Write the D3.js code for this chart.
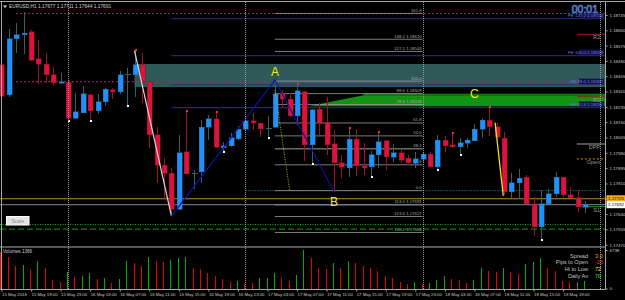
<!DOCTYPE html>
<html>
<head>
<meta charset="utf-8">
<title>EURUSD,H1</title>
<script src="https://cdn.jsdelivr.net/npm/d3@7"></script>
<style>
  body { margin: 0; background: #000; }
  svg { display: block; }
  text { font-family: "Liberation Sans", Arial, sans-serif; }
</style>
</head>
<body>
<div id="chart"></div>
<script>
// EURUSD H1, 15 May 2018 15:00 .. 18 May 2018 22:00 (one bar per hour)
var firstBar = Date.UTC(2018, 4, 15, 15);

var opens  = [1.18468,1.18301,1.18612,1.18634,1.18651,1.18501,1.18473,1.18412,1.18366,1.18373,
              1.18173,1.18203,1.18303,1.18214,1.18264,1.18330,1.18319,1.18414,1.18412,1.18468,
              1.18375,1.18079,1.17912,1.17866,1.17667,1.17986,1.17863,1.17875,1.18123,1.18168,
              1.18009,1.18018,1.18057,1.18111,1.18157,1.18144,1.18114,1.18122,1.18307,1.18277,
              1.18185,1.18319,1.18024,1.18222,1.18151,1.18029,1.17925,1.17897,1.18056,1.17908,
              1.17903,1.17968,1.18046,1.17955,1.17981,1.17950,1.17922,1.17944,1.17973,1.17903,
              1.18051,1.18024,1.18014,1.18033,1.18048,1.18111,1.18162,1.18125,1.18061,1.17764,
              1.17814,1.17844,1.17696,1.17570,1.17696,1.17752,1.17844,1.17746,1.17731,1.17677];
var highs  = [1.18495,1.18667,1.18701,1.18762,1.18662,1.18606,1.18536,1.18458,1.18425,1.18375,
              1.18314,1.18351,1.18307,1.18307,1.18340,1.18340,1.18436,1.18449,1.18547,1.18534,
              1.18378,1.18125,1.17951,1.17896,1.18079,1.18207,1.17885,1.18162,1.18190,1.18203,
              1.18042,1.18092,1.18129,1.18181,1.18203,1.18146,1.18185,1.18384,1.18329,1.18312,
              1.18357,1.18322,1.18221,1.18257,1.18290,1.18103,1.17968,1.18116,1.18111,1.18033,
              1.17992,1.18092,1.18051,1.18029,1.17996,1.17968,1.17986,1.17986,1.17984,1.18079,
              1.18074,1.18089,1.18061,1.18061,1.18140,1.18173,1.18233,1.18144,1.18098,1.17866,
              1.17889,1.17857,1.17733,1.17774,1.17777,1.17875,1.17848,1.17789,1.17774,1.17711];
var lows   = [1.18201,1.18290,1.18534,1.18529,1.18490,1.18362,1.18370,1.18357,1.18364,1.18162,
              1.18168,1.18200,1.18158,1.18196,1.18240,1.18277,1.18307,1.18245,1.18290,1.18257,
              1.18007,1.17814,1.17718,1.17629,1.17663,1.17860,1.17779,1.17814,1.18051,1.18007,
              1.17986,1.18014,1.18051,1.18108,1.18107,1.18066,1.18066,1.18120,1.18227,1.18180,
              1.18135,1.17935,1.17922,1.18074,1.17968,1.17764,1.17838,1.17844,1.17851,1.17857,
              1.17851,1.17896,1.17885,1.17931,1.17924,1.17912,1.17894,1.17931,1.17896,1.17890,
              1.17986,1.18007,1.17973,1.18005,1.18046,1.18061,1.18074,1.18064,1.17746,1.17728,
              1.17722,1.17694,1.17518,1.17500,1.17694,1.17736,1.17736,1.17729,1.17653,1.17644];
var closes = [1.18295,1.18612,1.18634,1.18645,1.18495,1.18473,1.18412,1.18368,1.18375,1.18173,
              1.18207,1.18307,1.18214,1.18264,1.18334,1.18319,1.18414,1.18416,1.18468,1.18375,
              1.18079,1.17912,1.17866,1.17667,1.17981,1.17863,1.17865,1.18123,1.18168,1.18012,
              1.18018,1.18063,1.18112,1.18157,1.18147,1.18114,1.18117,1.18307,1.18277,1.18185,
              1.18325,1.18024,1.18218,1.18144,1.18024,1.17925,1.17900,1.18056,1.17908,1.17897,
              1.17968,1.18042,1.17959,1.17981,1.17940,1.17925,1.17946,1.17973,1.17903,1.18051,
              1.18020,1.18014,1.18036,1.18051,1.18111,1.18162,1.18125,1.18066,1.17764,1.17814,
              1.17838,1.17696,1.17570,1.17696,1.17752,1.17844,1.17746,1.17731,1.17681,1.17691];
var volumes = [6400,5565,3990,4113,3238,4813,3535,1488,1138,2835,
               1960,2188,2765,1663,1785,1015,1663,4813,4463,3990,
               5460,4813,4690,4988,5285,5513,3640,3413,2765,2240,
               1610,1190,1365,1015,990,1890,1900,2765,1890,1260,
               2310,6738,5285,3535,3360,4410,3535,4813,4515,3938,
               3588,3063,2240,1890,1138,840,1190,735,910,1488,
               2188,1663,1488,1015,1488,3535,3115,2940,3640,2888,
               2485,4288,4690,5285,3640,3063,1300,1170,1210,1366];

// fractal marks seen on the wick tips
var fractalHighs = [18, 25, 29, 40, 47, 51, 61, 66];
var fractalLows  = [9, 12, 17, 30, 36, 42, 50, 59, 62, 73];

var priceTicks = [1.18745,1.18660,1.18575,1.18490,1.18405,1.18320,1.18235,1.18150,
                  1.18065,1.17980,1.17895,1.17810,1.17725,1.17640,1.17555,1.17470];
var timeLabels = ["15 May 2018","15 May 19:00","15 May 23:00","16 May 03:00","16 May 07:00",
                  "16 May 11:00","16 May 15:00","16 May 19:00","16 May 23:00","17 May 03:00",
                  "17 May 07:00","17 May 11:00","17 May 15:00","17 May 19:00","17 May 23:00",
                  "18 May 03:00","18 May 07:00","18 May 11:00","18 May 15:00","18 May 19:00"];

// swing points (bar index, price)
var zigWhite = [[18, 1.18547], [23, 1.17629]];
var zigBlue  = [[23, 1.17629], [37, 1.18384], [45, 1.17764]];
var waveLabels = [{t: "A", i: 37, p: 1.18384, up: true},
                  {t: "B", i: 45, p: 1.17764, up: false},
                  {t: "C", i: 64, p: 1.18260, up: true}];

// fibonacci retracement B -> A, and its extension below B
var fib0 = 1.17770, fib100 = 1.18378;
var fibLevels = [0, 23.6, 38.2, 50, 61.8, 78.6, 88.6, 100, 127.1, 138.2, 161.8];
var fibPriced = [78.6, 88.6, 127.1, 138.2];
var fibBelow  = [113, 123.6, 138.2];

// fibonacci expansion from the 23 low, A and B
var feLevels = [61.8, 78.6, 100, 127.2];

// pivot levels drawn at the right edge
var pivots = [{name: "R2", p: 1.18638, c: "#a01818"},
              {name: "R1", p: 1.18291, c: "#a01818"},
              {name: "DPP", p: 1.18029, c: "#a0a0a0"},
              {name: "Open", p: 1.17946, c: "#d08a20", dash: "2,2"},
              {name: "S1", p: 1.17681, c: "#10a010"}];

var lastAsk = 1.17725, lastBid = 1.17692;
var hiLines = [1.18753, 1.18375];     // magenta dotted
var zoneTeal = [1.18345, 1.18473];    // supply box
var zoneGreen = [1.18238, 1.18300];   // demand band
var greenLines = [1.17582, 1.17557];

var infoLabels = ["Spread", "Pips to Open", "Hi to Low", "Daily Av"];
var infoValues = ["3.0", "-25", "72", "70"];
var infoColors = ["#f0a000", "#ff3030", "#f0e000", "#20e020"];

var W = 625, H = 300;
var plotR = 605, mainTop = 2, mainBot = 246.5, volTop = 247.5, volBot = 289.5;

var svg = d3.select("#chart").append("svg").attr("width", W).attr("height", H)
  .style("background", "#000");

var time = function(i){ return new Date(firstBar + i * 3600e3); };
var x = d3.scaleUtc()
  .domain([Date.UTC(2018, 4, 16), Date.UTC(2018, 4, 18)])
  .range([68, 422.7]);
var y = d3.scaleLinear().domain([1.17470, 1.18745]).range([244.7, 15]);
var v = d3.scaleLinear().domain([0, 6738]).range([288.5, 250]);
var xi = function(i){ return x(time(i)); };

svg.append("clipPath").attr("id", "mainClip").append("rect")
  .attr("x", 0).attr("y", mainTop).attr("width", plotR).attr("height", mainBot - mainTop);
var main = svg.append("g").attr("clip-path", "url(#mainClip)");

// zones
main.append("rect").attr("x", xi(18)).attr("width", plotR - xi(18))
  .attr("y", y(zoneTeal[1])).attr("height", y(zoneTeal[0]) - y(zoneTeal[1]))
  .attr("fill", "#2f5859");
var gz = main.append("g");
gz.append("path").attr("fill", "#139313")
  .attr("d", "M" + xi(41.5) + "," + y(zoneGreen[0]) +
    "L" + xi(49) + "," + y(zoneGreen[1]) + "L" + plotR + "," + y(zoneGreen[1]) +
    "L" + plotR + "," + y(zoneGreen[0]) + "Z");
gz.append("rect").attr("x", xi(49)).attr("width", plotR - xi(49))
  .attr("y", y(zoneGreen[1]) - 1.5).attr("height", 2).attr("fill", "#0d7a0d");

// magenta dotted lines
main.selectAll(".hi").data(hiLines).enter().append("line")
  .attr("x1", 16).attr("x2", plotR).attr("y1", y).attr("y2", y)
  .attr("stroke", "#b81c6c").attr("stroke-dasharray", "2,2");

// fibo expansion lines, labels on a dark box at the right edge
var feX = xi(23), feRange = zigBlue[1][1] - zigBlue[0][1];
feLevels.forEach(function(l){
  var p = zigBlue[2][1] + l / 100 * feRange;
  main.append("line").attr("x1", feX).attr("x2", plotR).attr("y1", y(p)).attr("y2", y(p))
    .attr("stroke", "#30307e");
  main.append("rect").attr("x", plotR - 26).attr("y", y(p) - 6.2).attr("width", 25).attr("height", 5.6)
    .attr("fill", "#14144a");
  main.append("text").attr("x", plotR - 2).attr("y", y(p) - 1.5).attr("text-anchor", "end")
    .attr("font-size", 4.4).attr("fill", "#7474e0")
    .text("FE " + l.toFixed(1) + " " + p.toFixed(5));
});

// fibo retracement
var fibX1 = xi(37), fibX2 = xi(57);
var fibPrice = function(l){ return fib0 + l / 100 * (fib100 - fib0); };
main.append("line").attr("x1", xi(33)).attr("x2", plotR)
  .attr("y1", y(fib0)).attr("y2", y(fib0))
  .attr("stroke", "#1d5a5e").attr("stroke-dasharray", "2,1");
fibLevels.forEach(function(l){
  var p = fibPrice(l);
  main.append("line").attr("x1", fibX1).attr("x2", fibX2).attr("y1", y(p)).attr("y2", y(p))
    .attr("stroke", l === 38.2 ? "#6a6a6a" : "#9a9a9a").attr("stroke-width", l === 38.2 ? 1.6 : 0.8);
  main.append("text").attr("x", fibX2 - 1).attr("y", y(p) - 1.5).attr("text-anchor", "end")
    .attr("font-size", 4.3).attr("fill", "#a8a8a8")
    .text(l.toFixed(1) + (fibPriced.indexOf(l) >= 0 ? " " + p.toFixed(5) : ""));
});
fibBelow.forEach(function(l){
  var p = fib100 - l / 100 * (fib100 - fib0);
  main.append("line").attr("x1", fibX1).attr("x2", fibX2).attr("y1", y(p)).attr("y2", y(p))
    .attr("stroke", "#9a9a9a").attr("stroke-width", 0.8);
  main.append("text").attr("x", fibX2 - 1).attr("y", y(p) - 1.5).attr("text-anchor", "end")
    .attr("font-size", 4.3).attr("fill", "#a8a8a8").text(l.toFixed(1) + " " + p.toFixed(5));
});

// ask / bid / support lines across the chart
main.append("line").attr("x1", 0).attr("x2", plotR).attr("y1", y(lastAsk)).attr("y2", y(lastAsk))
  .attr("stroke", "#c8861e");
main.append("line").attr("x1", 0).attr("x2", plotR).attr("y1", y(lastBid)).attr("y2", y(lastBid))
  .attr("stroke", "#7d8a9a");
main.append("line").attr("x1", 0).attr("x2", plotR).attr("y1", y(greenLines[0])).attr("y2", y(greenLines[0]))
  .attr("stroke", "#10b010").attr("stroke-dasharray", "1,1.5");
main.append("line").attr("x1", 0).attr("x2", plotR).attr("y1", y(greenLines[1])).attr("y2", y(greenLines[1]))
  .attr("stroke", "#0b820b").attr("stroke-width", 1.2).attr("stroke-dasharray", "6,3");

// pivots
pivots.forEach(function(d){
  main.append("line").attr("x1", xi(78) - 1).attr("x2", plotR).attr("y1", y(d.p)).attr("y2", y(d.p))
    .attr("stroke", d.c).attr("stroke-dasharray", d.dash || null);
  main.append("text").attr("x", 600).attr("y", y(d.p) + 5).attr("text-anchor", "end")
    .attr("font-size", 5.5).attr("fill", "#9a9a9a").text(d.name);
});

// day separators
var days = [Date.UTC(2018,4,16), Date.UTC(2018,4,17), Date.UTC(2018,4,18), Date.UTC(2018,4,19)];
svg.selectAll(".sep").data(days).enter().append("line")
  .attr("x1", function(d){ return Math.round(x(d)) + 0.5; })
  .attr("x2", function(d){ return Math.round(x(d)) + 0.5; })
  .attr("y1", mainTop).attr("y2", volBot)
  .attr("stroke", "#9a9a9a").attr("stroke-dasharray", "1,1");

// candles
var idx = d3.range(opens.length);
var bullWick = "#3c5e60", bearWick = "#9a1424";
var candles = main.append("g").attr("shape-rendering", "crispEdges");
idx.forEach(function(i){
  var cx = Math.round(xi(i)) + 0.5;
  var up = closes[i] >= opens[i];
  var doji = Math.abs(closes[i] - opens[i]) < 0.00004;
  candles.append("line").attr("x1", cx).attr("x2", cx)
    .attr("y1", y(highs[i])).attr("y2", y(lows[i]))
    .attr("stroke", up ? bullWick : bearWick);
  if (doji) {
    candles.append("line").attr("x1", cx - 3).attr("x2", cx + 3)
      .attr("y1", y(closes[i])).attr("y2", y(closes[i])).attr("stroke", bullWick);
  } else {
    var top = y(Math.max(opens[i], closes[i])), bot = y(Math.min(opens[i], closes[i]));
    candles.append("rect").attr("x", cx - 2.5).attr("width", 5)
      .attr("y", top).attr("height", Math.max(1, bot - top))
      .attr("fill", up ? "#1e90ff" : "#dc143c")
      .attr("stroke", up ? "#2a6a8a" : "#8a1020").attr("stroke-width", 0.5);
  }
});
fractalHighs.forEach(function(i){
  candles.append("rect").attr("x", Math.round(xi(i)) - 0.5).attr("y", y(highs[i]) - 1.5)
    .attr("width", 2).attr("height", 2).attr("fill", "#ff2a2a");
});
fractalLows.forEach(function(i){
  candles.append("rect").attr("x", Math.round(xi(i)) - 0.5).attr("y", y(lows[i]) - 0.5)
    .attr("width", 2).attr("height", 2).attr("fill", "#ffffff");
});

// zigzag
var line = d3.line().x(function(d){ return xi(d[0]); }).y(function(d){ return y(d[1]); });
main.append("path").attr("d", line(zigWhite)).attr("fill", "none")
  .attr("stroke", "#d8d8d8").attr("stroke-width", 1.2);
main.append("path").attr("d", line(zigBlue)).attr("fill", "none")
  .attr("stroke", "#1010a8").attr("stroke-width", 1.2);
main.append("path").attr("d", line([[37, 1.18330], [39, fib0]])).attr("fill", "none")
  .attr("stroke", "#c8b400").attr("stroke-dasharray", "1,1.5");
main.append("path").attr("d", line([[66.8, 1.18148], [67.9, 1.17742]])).attr("fill", "none")
  .attr("stroke", "#f0e020").attr("stroke-width", 1.3);

waveLabels.forEach(function(d){
  main.append("text").attr("x", xi(d.i)).attr("y", d.up ? y(d.p) - 4 : y(d.p) + 14)
    .attr("text-anchor", "middle").attr("font-size", 12).attr("fill", "#f0f000")
    .text(d.t);
});

// panel frames
svg.append("line").attr("x1", 0).attr("x2", W).attr("y1", 1.5).attr("y2", 1.5).attr("stroke", "#a8a8a8");
svg.append("line").attr("x1", 1.5).attr("x2", 1.5).attr("y1", 1.5).attr("y2", volBot).attr("stroke", "#a8a8a8");
svg.append("line").attr("x1", 0).attr("x2", plotR).attr("y1", volTop - 0.5).attr("y2", volTop - 0.5).attr("stroke", "#a8a8a8");

// price axis
var yAxis = svg.append("g").attr("transform", "translate(" + (plotR + 0.5) + ",0)")
  .call(d3.axisRight(y).tickValues(priceTicks).tickFormat(d3.format(".5f")).tickSize(2).tickPadding(2));
yAxis.select(".domain").attr("stroke", "#a8a8a8").attr("d", "M0," + mainTop + "V" + volBot);
yAxis.selectAll("line").attr("stroke", "#a8a8a8");
yAxis.selectAll("text").attr("fill", "#c8c8c8").attr("font-size", 4.4);

// current price boxes
[{p: lastAsk, bg: "#f5a623", fg: "#000"}, {p: lastBid, bg: "#ffffff", fg: "#000"}].forEach(function(d){
  svg.append("rect").attr("x", plotR + 1.5).attr("y", y(d.p) - 3.5).attr("width", 19).attr("height", 7)
    .attr("fill", d.bg);
  svg.append("text").attr("x", plotR + 3).attr("y", y(d.p) + 1.6).attr("font-size", 4.4)
    .attr("fill", d.fg).text(d.p.toFixed(5));
});

// volumes: green when above the previous bar, red otherwise
var vol = svg.append("g").attr("shape-rendering", "crispEdges");
idx.forEach(function(i){
  var rising = i > 0 && volumes[i] > volumes[i - 1];
  vol.append("line")
    .attr("x1", Math.round(xi(i)) - 0.5).attr("x2", Math.round(xi(i)) - 0.5)
    .attr("y1", v(0)).attr("y2", v(volumes[i]))
    .attr("stroke", rising ? "#00b000" : "#e60000").attr("stroke-width", 1.5);
});
var vAxis = svg.append("g").attr("transform", "translate(" + (plotR + 0.5) + ",0)")
  .call(d3.axisRight(v).tickValues([0, 6738]).tickSize(2).tickPadding(2).tickFormat(d3.format("d")));
vAxis.select(".domain").remove();
vAxis.selectAll("line").attr("stroke", "#a8a8a8");
vAxis.selectAll("text").attr("fill", "#c8c8c8").attr("font-size", 4.4);

svg.append("text").attr("x", 3).attr("y", 252.5).attr("font-size", 4.6).attr("fill", "#c8c8c8")
  .text("Volumes " + volumes[volumes.length - 1]);
infoLabels.forEach(function(l, k){
  svg.append("text").attr("x", 588).attr("y", 257.5 + k * 6.9).attr("text-anchor", "end")
    .attr("font-size", 5.6).attr("fill", "#c0c0c0").text(l);
  svg.append("text").attr("x", 595).attr("y", 257.5 + k * 6.9)
    .attr("font-size", 5.6).attr("fill", infoColors[k]).text(infoValues[k]);
});

// time axis
var tickTimes = timeLabels.map(function(d, k){ return time(k * 4); });
var xAxis = svg.append("g").attr("transform", "translate(0," + volBot + ")")
  .call(d3.axisBottom(x).tickValues(tickTimes).tickSize(2).tickPadding(1)
    .tickFormat(function(d, k){ return timeLabels[k]; }));
xAxis.select(".domain").attr("stroke", "#a8a8a8").attr("d", "M0,0H" + plotR);
xAxis.selectAll("line").attr("stroke", "#a8a8a8");
xAxis.selectAll("text").attr("fill", "#c8c8c8").attr("font-size", 4.3)
  .attr("text-anchor", "start").attr("dx", 0);

// header
svg.append("path").attr("d", "M3,5.5h4l-2,2.5z").attr("fill", "#e0e0e0");
svg.append("text").attr("x", 9).attr("y", 7.8).attr("font-size", 4.8).attr("fill", "#d0d0d0")
  .text("EURUSD,H1  " + [opens[79], highs[79], lows[79], closes[79]].map(function(d){ return d.toFixed(5); }).join(" "));
svg.append("text").attr("x", 598).attr("y", 12.5).attr("text-anchor", "end")
  .attr("font-size", 10.5).attr("fill", "none").attr("stroke", "#5a8ee0").attr("stroke-width", 0.7)
  .text("00:01");

// scale button
svg.append("rect").attr("x", 6.5).attr("y", 216.5).attr("width", 22.5).attr("height", 8.5)
  .attr("fill", "#e4e4e4").attr("stroke", "#ffffff");
svg.append("text").attr("x", 17.7).attr("y", 222.6).attr("text-anchor", "middle")
  .attr("font-size", 5).attr("fill", "#8a8a8a").text("Scale");
</script>
</body>
</html>
